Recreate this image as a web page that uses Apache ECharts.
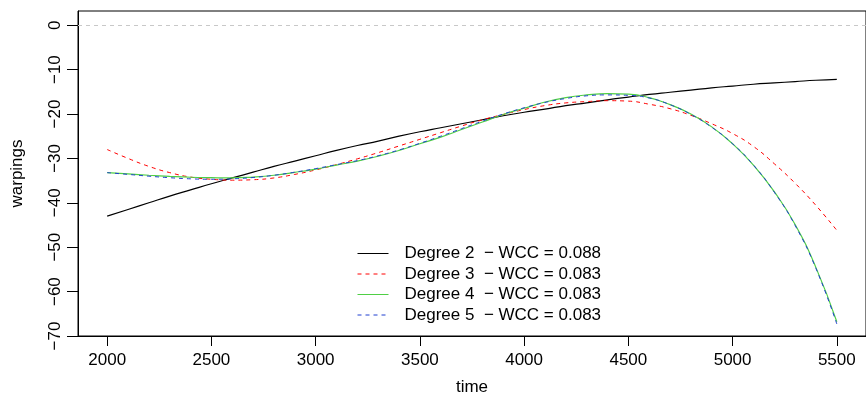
<!DOCTYPE html>
<html>
<head>
<meta charset="utf-8">
<script src="https://cdn.jsdelivr.net/npm/echarts@6/dist/echarts.min.js"></script>
<style>
  html, body { margin: 0; padding: 0; background: #fff; }
  #chart { width: 866px; height: 403px; }
</style>
</head>
<body>
<div id="chart"></div>
<script>
// Time grid of the fitted warping curves
const times = [2000, 2100, 2200, 2300, 2400, 2500, 2600, 2700, 2800, 2900,
               3000, 3100, 3200, 3300, 3400, 3500, 3600, 3700, 3800, 3900,
               4000, 4100, 4200, 4300, 4400, 4500, 4600, 4700, 4800, 4900,
               5000, 5100, 5200, 5300, 5400, 5500];

// Polynomial warpings per degree
const degree2 = [-43.0, -41.5, -40.0, -38.5, -37.1, -35.7, -34.4, -33.1, -31.8, -30.6,
                 -29.4, -28.2, -27.1, -26.1, -25.0, -24.0, -23.1, -22.2, -21.3, -20.4,
                 -19.6, -18.9, -18.1, -17.5, -16.8, -16.2, -15.6, -15.1, -14.6, -14.1,
                 -13.7, -13.3, -13.0, -12.7, -12.4, -12.2];
const degree3 = [-28.0, -30.0, -31.8, -33.2, -34.2, -34.7, -34.9, -34.8, -34.4, -33.6,
                 -32.6, -31.4, -30.1, -28.7, -27.2, -25.7, -24.2, -22.7, -21.3, -20.1,
                 -19.0, -18.1, -17.5, -17.2, -17.0, -17.1, -17.8, -18.8, -20.3, -22.2,
                 -24.4, -27.3, -31.2, -35.6, -40.6, -46.2];
const degree4 = [-33.2, -33.5, -33.8, -34.05, -34.25, -34.35, -34.4, -34.2, -33.8, -33.15,
                 -32.4, -31.5, -30.6, -29.5, -28.2, -26.7, -25.2, -23.5, -21.8, -20.1,
                 -18.7, -17.3, -16.3, -15.7, -15.4, -15.5, -16.3, -17.9, -20.0, -22.9,
                 -26.7, -31.5, -37.5, -44.9, -54.6, -66.8];
const degree5 = [-33.2, -33.6, -34.0, -34.35, -34.6, -34.7, -34.6, -34.3, -33.8, -33.1,
                 -32.3, -31.4, -30.5, -29.4, -28.1, -26.6, -25.0, -23.3, -21.6, -20.0,
                 -18.6, -17.4, -16.5, -15.9, -15.7, -15.8, -16.4, -17.9, -20.1, -23.0,
                 -26.7, -31.5, -37.6, -45.1, -54.8, -67.3];

const degreeLabels = ['Degree 2', 'Degree 3', 'Degree 4', 'Degree 5'];
const wccValues = ['0.088', '0.083', '0.083', '0.083'];

// Axis ticks
const xTicks = [2000, 2500, 3000, 3500, 4000, 4500, 5000, 5500];
const yTicks = [0, -10, -20, -30, -40, -50, -60, -70];

const FONT = "'Liberation Sans', Arial, Helvetica, sans-serif";

const names = degreeLabels.map((d, i) => d + '  \u2212 WCC = ' + wccValues[i]);
const seriesValues = [degree2, degree3, degree4, degree5];
const styles = [
  { color: '#000000', type: 'solid', width: 1.2 },
  { color: '#ff0000', type: [4, 4], width: 1 },
  { color: '#4fcf45', type: 'solid', width: 1.2 },
  { color: '#1f3fd0', type: [4, 4], width: 1 }
];

const chart = echarts.init(document.getElementById('chart'), null, { renderer: 'canvas' });

const series = seriesValues.map((vals, i) => ({
  name: names[i],
  type: 'line',
  data: times.map((t, k) => [t, vals[k]]),
  smooth: true,
  symbol: 'none',
  color: styles[i].color,
  lineStyle: { color: styles[i].color, type: styles[i].type, width: styles[i].width },
  z: 2 + i
}));

// Zero reference line
series[0].markLine = {
  silent: true,
  symbol: 'none',
  label: { show: false },
  lineStyle: { color: '#c8c8c8', type: [4, 4], width: 1 },
  data: [{ yAxis: 0 }]
};

const minus = v => String(v).replace('-', '\u2212');

chart.setOption({
  animation: false,
  backgroundColor: '#ffffff',
  grid: {
    left: 78, top: 11, right: -8.5, bottom: 67,
    show: true, borderColor: '#000', borderWidth: 1, backgroundColor: 'transparent'
  },
  legend: {
    orient: 'vertical',
    left: 357, top: 245,
    padding: 0,
    itemWidth: 31, itemHeight: 14, itemGap: 3.5,
    itemStyle: { opacity: 0 },
    lineStyle: { width: 1 },
    textStyle: { fontFamily: FONT, fontSize: 17, color: '#000', padding: [0, 0, 0, 11] },
    data: names
  },
  xAxis: {
    type: 'value',
    min: 1860, max: 5640,
    name: 'time',
    nameLocation: 'middle',
    nameGap: 43,
    nameTextStyle: { fontFamily: FONT, fontSize: 17, color: '#000' },
    axisLine: { show: true, onZero: false, lineStyle: { color: '#000', width: 1 } },
    axisTick: { show: true, length: 10, lineStyle: { color: '#000' }, customValues: xTicks },
    axisLabel: {
      fontFamily: FONT, fontSize: 17, color: '#000', margin: 16,
      customValues: xTicks, formatter: v => String(v)
    },
    splitLine: { show: false }
  },
  yAxis: {
    type: 'value',
    min: -70, max: 3.2,
    name: 'warpings',
    nameLocation: 'middle',
    nameRotate: 90,
    nameGap: 52,
    nameTextStyle: { fontFamily: FONT, fontSize: 17, color: '#000' },
    axisLine: { show: true, onZero: false, lineStyle: { color: '#000', width: 1 } },
    axisTick: { show: true, length: 11, lineStyle: { color: '#000' }, customValues: yTicks },
    axisLabel: {
      fontFamily: FONT, fontSize: 17, color: '#000', margin: 14, rotate: 90,
      customValues: yTicks, formatter: v => minus(v)
    },
    splitLine: { show: false }
  },
  series: series
});
</script>
</body>
</html>
